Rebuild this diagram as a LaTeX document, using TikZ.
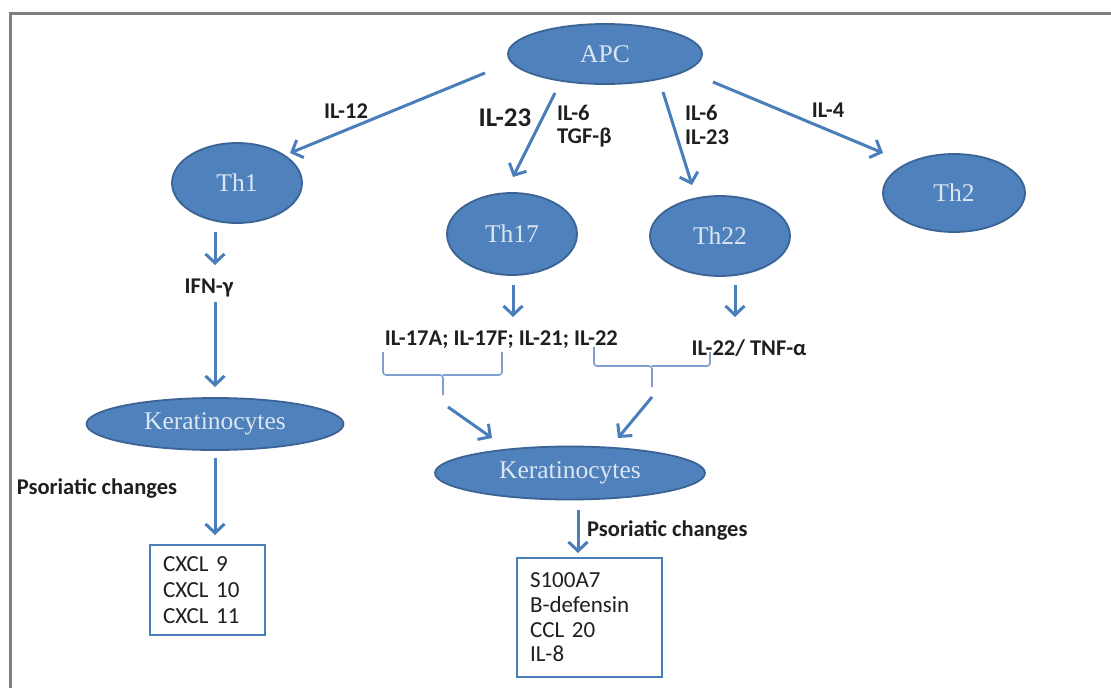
\documentclass[tikz,border=0pt]{standalone}
\usepackage{fontspec}
\setmainfont{Carlito}
\newfontfamily\cellfont{Liberation Serif}
\usetikzlibrary{shapes.geometric,arrows.meta}
\definecolor{cellfill}{HTML}{4F81BD}
\definecolor{celledge}{HTML}{3B6494}
\definecolor{celltext}{HTML}{DCE6F2}
\definecolor{arrowblue}{HTML}{4A7EBB}
\definecolor{bracecol}{HTML}{7F9FCF}
\definecolor{framegray}{HTML}{7F7F7F}
\definecolor{labelcol}{HTML}{1F1F1F}
\begin{document}
\begin{tikzpicture}[x=1pt,y=-1pt,
  cell/.style={ellipse, draw=celledge, line width=1.8pt, fill=cellfill, inner sep=0pt,
    text=celltext, font=\cellfont\fontsize{25.5}{28}\selectfont},
  lab/.style={text=labelcol, font=\bfseries\fontsize{22.5}{26}\selectfont, inner sep=0pt},
  biglab/.style={lab, font=\bfseries\fontsize{27}{30}\selectfont},
  flow/.style={draw=arrowblue, line width=3pt, -{Straight Barb[length=9pt,width=19pt]}},
  brace/.style={draw=bracecol, line width=1.6pt, rounded corners=3pt},
  result/.style={draw=arrowblue, line width=2.6pt, fill=white, align=left,
    text=labelcol, inner ysep=0pt, inner xsep=13pt, anchor=center}
]
\useasboundingbox (0,0) rectangle (1111,688);
\fill[white] (0,0) rectangle (1111,688);
\draw[framegray, line width=3pt] (10,700) -- (10,13) -- (1120,13);

% cells
\node[cell, minimum width=194pt, minimum height=60pt] (apc) at (605,54) {APC};
\node[cell, minimum width=130pt, minimum height=80pt] (th1) at (237,183) {Th1};
\node[cell, minimum width=130pt, minimum height=82pt] (th17) at (512,234) {Th17};
\node[cell, minimum width=140pt, minimum height=80pt] (th22) at (720,236) {Th22};
\node[cell, minimum width=142pt, minimum height=78pt] (th2) at (954,193) {Th2};
\node[cell, minimum width=257pt, minimum height=52pt] (kerL) at (215,424) {Keratinocytes};
\node[cell, minimum width=270pt, minimum height=53pt] (kerR) at (570,473) {Keratinocytes};

% labels
\node[lab] (il12) at (346,111) {IL-12};
\node[biglab] (il23a) at (505,118) {IL-23};
\node[lab, anchor=west] (il6a) at (557,113) {IL-6};
\node[lab, anchor=west] (tgf) at (557,138) {TGF-β};
\node[lab, anchor=west] (il6b) at (685,113) {IL-6};
\node[lab, anchor=west] (il23b) at (685,137) {IL-23};
\node[lab] (il4) at (828,110) {IL-4};
\node[lab] (ifn) at (209,288) {IFN-γ};
\node[lab, anchor=east] (il17) at (618,340) {IL-17A; IL-17F; IL-21; IL-22};
\node[lab] (il22) at (749,348) {IL-22/ TNF-α};
\node[lab] (psoL) at (97,488) {Psoriatic changes};
\node[lab, anchor=west] (psoR) at (587,530) {Psoriatic changes};

% result boxes
\node[result, text width=89pt, minimum height=90pt,
  font=\fontsize{23}{26}\selectfont] (boxL) at (207.5,590) {CXCL 9\\CXCL 10\\CXCL 11};
\node[result, text width=119pt, minimum height=119pt,
  font=\fontsize{23}{24.7}\selectfont] (boxR) at (589.5,617.5) {S100A7\\B-defensin\\CCL 20\\IL-8};

% arrow end points
\coordinate (a1s) at (485,73);  \coordinate (a1e) at (290,153);
\coordinate (a2s) at (555,93);  \coordinate (a2e) at (513,177);
\coordinate (a3s) at (663,92);  \coordinate (a3e) at (692,185);
\coordinate (a4s) at (713,82);  \coordinate (a4e) at (883,153);
\coordinate (b1s) at (215,232); \coordinate (b1e) at (215,265);
\coordinate (b2s) at (215,302); \coordinate (b2e) at (215,387);
\coordinate (b3s) at (215,458); \coordinate (b3e) at (215,535);
\coordinate (c1s) at (513,285); \coordinate (c1e) at (513,317);
\coordinate (c2s) at (735,285); \coordinate (c2e) at (735,317);
\coordinate (d1s) at (448,407); \coordinate (d1e) at (492,438);
\coordinate (d2s) at (652,397); \coordinate (d2e) at (618,438);
\coordinate (e1s) at (578,510); \coordinate (e1e) at (578,553);

\draw[flow] (a1s) -- (a1e);
\draw[flow] (a2s) -- (a2e);
\draw[flow] (a3s) -- (a3e);
\draw[flow] (a4s) -- (a4e);
\draw[flow] (b1s) -- (b1e);
\draw[flow] (b2s) -- (b2e);
\draw[flow] (b3s) -- (b3e);
\draw[flow] (c1s) -- (c1e);
\draw[flow] (c2s) -- (c2e);
\draw[flow] (d1s) -- (d1e);
\draw[flow] (d2s) -- (d2e);
\draw[flow] (e1s) -- (e1e);

% braces
\draw[brace] (383,352) |- (443,375) -- (443,395);
\draw[brace] (443,375) -| (502,352);
\draw[brace] (594,347) |- (652,366) -- (652,387);
\draw[brace] (652,366) -| (710,352);
\end{tikzpicture}
\end{document}
